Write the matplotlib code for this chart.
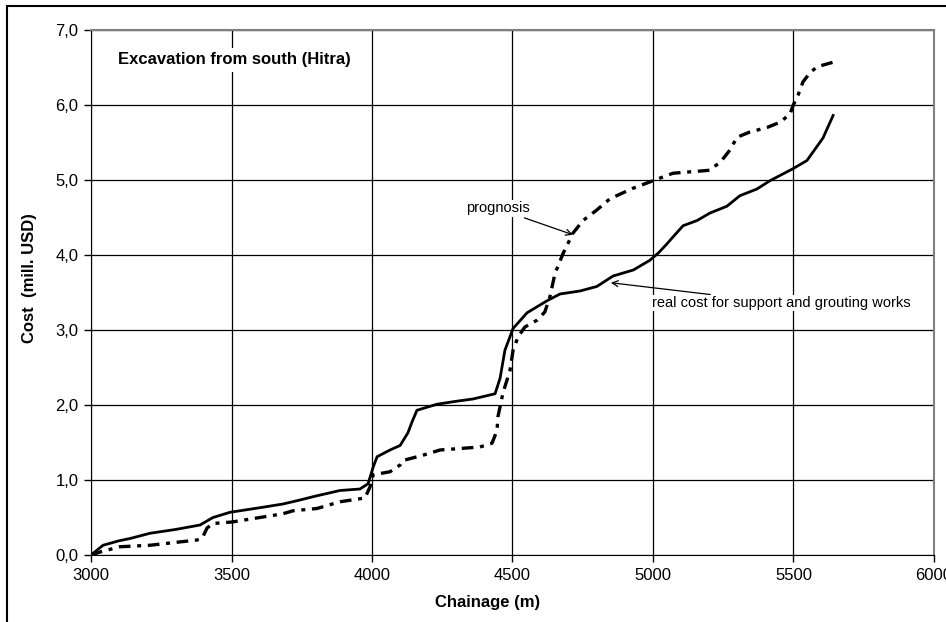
import numpy as np
import matplotlib.pyplot as plt
from matplotlib.patches import Rectangle
from matplotlib.ticker import FuncFormatter

plt.rcParams['font.family'] = ['Liberation Sans', 'DejaVu Sans']

# real cost for support and grouting works
real_x = [3000, 3043, 3100, 3139, 3210, 3300, 3388, 3434, 3495, 3600, 3683, 3740, 3804,
          3886, 3957, 3986, 4004, 4018, 4064, 4100, 4128, 4142, 4160, 4231, 4300, 4359,
          4438, 4456, 4473, 4502, 4552, 4623, 4669, 4740, 4800, 4858, 4930, 4989, 5020,
          5050, 5071, 5107, 5157, 5203, 5263, 5309, 5370, 5416, 5498, 5548, 5605, 5641]
real_y = [0.00, 0.13, 0.19, 0.22, 0.29, 0.34, 0.40, 0.50, 0.57, 0.63, 0.68, 0.73, 0.79,
          0.86, 0.88, 0.95, 1.17, 1.31, 1.40, 1.46, 1.63, 1.77, 1.93, 2.01, 2.05, 2.08,
          2.15, 2.36, 2.73, 3.02, 3.23, 3.39, 3.48, 3.52, 3.58, 3.72, 3.80, 3.93, 4.03,
          4.15, 4.24, 4.39, 4.46, 4.56, 4.65, 4.79, 4.88, 4.99, 5.15, 5.26, 5.56, 5.86]

# prognosis
prog_x = [3000, 3032, 3103, 3210, 3377, 3395, 3413, 3434, 3502, 3683, 3719, 3804, 3886,
          3975, 3993, 4004, 4064, 4100, 4110, 4181, 4242, 4384, 4427, 4445, 4448, 4466,
          4491, 4502, 4520, 4544, 4587, 4615, 4633, 4651, 4680, 4715, 4751, 4800, 4847,
          4929, 5000, 5071, 5203, 5214, 5238, 5274, 5299, 5345, 5406, 5452, 5488, 5498,
          5516, 5534, 5559, 5584, 5641]
prog_y = [0.00, 0.04, 0.11, 0.13, 0.20, 0.22, 0.36, 0.42, 0.44, 0.55, 0.59, 0.62, 0.71,
          0.76, 0.91, 1.07, 1.11, 1.20, 1.26, 1.33, 1.40, 1.44, 1.49, 1.66, 1.84, 2.16,
          2.46, 2.73, 2.91, 3.04, 3.13, 3.24, 3.44, 3.75, 4.02, 4.29, 4.46, 4.60, 4.75,
          4.89, 4.99, 5.09, 5.13, 5.17, 5.23, 5.40, 5.57, 5.64, 5.70, 5.77, 5.88, 5.99,
          6.13, 6.31, 6.43, 6.51, 6.57]

fig = plt.figure(figsize=(9.46, 6.22), dpi=100)
ax = fig.add_axes([0.0962, 0.1077, 0.8911, 0.8441])

ax.plot(real_x, real_y, color='black', lw=2.0, solid_joinstyle='round')
ax.plot(prog_x, prog_y, color='black', lw=2.4, dashes=(3.5, 2.0, 1.2, 2.0))

ax.set_xlim(3000, 6000)
ax.set_ylim(0, 7)
ax.set_xticks(np.arange(3000, 6001, 500))
ax.set_yticks(np.arange(0, 7.01, 1))
ax.yaxis.set_major_formatter(FuncFormatter(lambda v, p: f'{v:.1f}'.replace('.', ',')))
ax.grid(True, color='black', lw=0.9)
ax.set_axisbelow(True)
ax.tick_params(direction='out', length=5, width=1, labelsize=12, pad=4)
for s in ['top', 'right']:
    ax.spines[s].set_color('#808080')
    ax.spines[s].set_linewidth(1.5)
for s in ['left', 'bottom']:
    ax.spines[s].set_color('black')

ax.set_xlabel('Chainage (m)', fontsize=12, fontweight='bold', labelpad=12)
ax.xaxis.set_label_coords(0.471, -0.077)
ax.set_ylabel('Cost  (mill. USD)', fontsize=12, fontweight='bold')
ax.yaxis.set_label_coords(-0.064, 0.527)

ax.text(3095, 6.6, 'Excavation from south (Hitra)', fontsize=12, fontweight='bold',
        ha='left', va='center', bbox=dict(facecolor='white', edgecolor='none', pad=3))

ax.annotate('prognosis', xy=(4715, 4.27), xytext=(4560, 4.62), fontsize=10.5,
            ha='right', va='center',
            bbox=dict(facecolor='white', edgecolor='none', pad=1),
            arrowprops=dict(arrowstyle='->', color='black', lw=0.9, shrinkA=2, shrinkB=0))
ax.annotate('real cost for support and grouting works', xy=(4850, 3.63), xytext=(4998, 3.36),
            fontsize=10.5, ha='left', va='center',
            bbox=dict(facecolor='white', edgecolor='none', pad=1),
            arrowprops=dict(arrowstyle='->', color='black', lw=0.9, shrinkA=0, shrinkB=0))

fig.patches.append(Rectangle((7 / 946, -0.1), 1.2, 1.1 - 6 / 622, transform=fig.transFigure,
                             fill=False, edgecolor='black', lw=1.5))

fig.savefig('out.png', dpi=100)
